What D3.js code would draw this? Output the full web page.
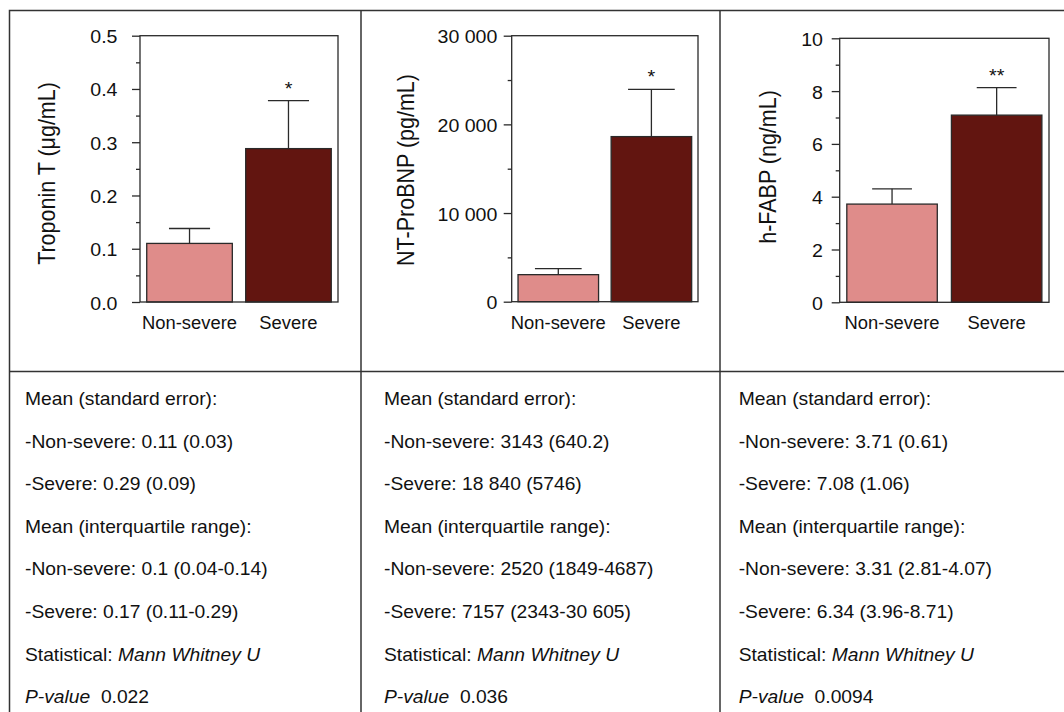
<!DOCTYPE html>
<html><head><meta charset="utf-8">
<script src="https://cdn.jsdelivr.net/npm/d3@7"></script>
<style>
body{margin:0;background:#fff}
svg{display:block}
text{font-family:"Liberation Sans",Arial,Helvetica,sans-serif;fill:#111}
</style>
</head><body>
<svg id="c" width="1064" height="712"></svg>
<script>
// ---------------- DATA ----------------
const categories = ["Non-severe", "Severe"];

const troponinMean = [0.11, 0.288];
const troponinSE   = [0.028, 0.09];
const troponinTicks = [0, 0.1, 0.2, 0.3, 0.4, 0.5];
const troponinTickLabels = ["0.0", "0.1", "0.2", "0.3", "0.4", "0.5"];
const troponinMinor = [0.05, 0.15, 0.25, 0.35, 0.45];

const ntMean = [3050, 18620];
const ntSE   = [670, 5330];
const ntTicks = [0, 10000, 20000, 30000];
const ntTickLabels = ["0", "10 000", "20 000", "30 000"];
const ntMinor = [5000, 15000, 25000];

const fabpMean = [3.72, 7.09];
const fabpSE   = [0.58, 1.04];
const fabpTicks = [0, 2, 4, 6, 8, 10];
const fabpTickLabels = ["0", "2", "4", "6", "8", "10"];
const fabpMinor = [1, 3, 5, 7, 9];

const yTitles = ["Troponin T (\u03BCg/mL)", "NT-ProBNP (pg/mL)", "h-FABP (ng/mL)"];
const significance = ["*", "*", "**"];

const tableTroponin = [
  [["Mean (standard error):", 0]],
  [["-Non-severe: 0.11 (0.03)", 0]],
  [["-Severe: 0.29 (0.09)", 0]],
  [["Mean (interquartile range):", 0]],
  [["-Non-severe: 0.1 (0.04-0.14)", 0]],
  [["-Severe: 0.17 (0.11-0.29)", 0]],
  [["Statistical: ", 0], ["Mann Whitney U", 1]],
  [["P-value", 1], ["  0.022", 0]]
];
const tableNT = [
  [["Mean (standard error):", 0]],
  [["-Non-severe: 3143 (640.2)", 0]],
  [["-Severe: 18 840 (5746)", 0]],
  [["Mean (interquartile range):", 0]],
  [["-Non-severe: 2520 (1849-4687)", 0]],
  [["-Severe: 7157 (2343-30 605)", 0]],
  [["Statistical: ", 0], ["Mann Whitney U", 1]],
  [["P-value", 1], ["  0.036", 0]]
];
const tableFABP = [
  [["Mean (standard error):", 0]],
  [["-Non-severe: 3.71 (0.61)", 0]],
  [["-Severe: 7.08 (1.06)", 0]],
  [["Mean (interquartile range):", 0]],
  [["-Non-severe: 3.31 (2.81-4.07)", 0]],
  [["-Severe: 6.34 (3.96-8.71)", 0]],
  [["Statistical: ", 0], ["Mann Whitney U", 1]],
  [["P-value", 1], ["  0.0094", 0]]
];

// ---------------- LAYOUT ----------------
const svg = d3.select("#c");
const colors = ["#DF8C8A", "#621510"];
const lineCol = "#2a2a2a";

const panels = [
  {mean: troponinMean, se: troponinSE, ticks: troponinTicks, labels: troponinTickLabels, minor: troponinMinor, max: 0.5,
   x0: 140, x1: 338, yTop: 35.7, yBot: 302, titleX: 55, titleY: 173.5, pad: 22.5, cap: 0.48, table: tableTroponin, tx: 25},
  {mean: ntMean, se: ntSE, ticks: ntTicks, labels: ntTickLabels, minor: ntMinor, max: 30000,
   x0: 511.7, x1: 698, yTop: 35.7, yBot: 301.7, titleX: 413.5, titleY: 170, pad: 14.3, cap: 0.58, table: tableNT, tx: 384},
  {mean: fabpMean, se: fabpSE, ticks: fabpTicks, labels: fabpTickLabels, minor: fabpMinor, max: 10,
   x0: 839.7, x1: 1049, yTop: 38.3, yBot: 302.3, titleX: 776, titleY: 167, pad: 16.7, cap: 0.44, table: tableFABP, tx: 738.7}
];

// frame
const frame = svg.append("g").attr("fill", "none").attr("stroke", "#333").attr("stroke-width", 1.5);
frame.append("rect").attr("x", 9.5).attr("y", 10.5).attr("width", 1080).attr("height", 720);
frame.append("line").attr("x1", 9.5).attr("x2", 1064).attr("y1", 371.5).attr("y2", 371.5);
frame.append("line").attr("x1", 361).attr("x2", 361).attr("y1", 10.5).attr("y2", 712);
frame.append("line").attr("x1", 720).attr("x2", 720).attr("y1", 10.5).attr("y2", 712);

panels.forEach((p, pi) => {
  const g = svg.append("g");
  const y = d3.scaleLinear().domain([0, p.max]).range([p.yBot, p.yTop]);
  const x = d3.scaleBand().domain(categories).range([p.x0, p.x1]).paddingInner(0.135).paddingOuter(0.068);
  const bw = x.bandwidth();

  // bars
  g.selectAll("rect.bar").data(categories).join("rect")
    .attr("class", "bar")
    .attr("x", d => x(d)).attr("width", bw)
    .attr("y", (d, i) => y(p.mean[i]))
    .attr("height", (d, i) => y(0) - y(p.mean[i]))
    .attr("fill", (d, i) => colors[i])
    .attr("stroke", lineCol).attr("stroke-width", 1.3);

  // error bars
  categories.forEach((c, i) => {
    const cx = x(c) + bw / 2;
    const top = y(p.mean[i] + p.se[i]);
    g.append("line").attr("x1", cx).attr("x2", cx).attr("y1", y(p.mean[i])).attr("y2", top)
      .attr("stroke", lineCol).attr("stroke-width", 1.3);
    g.append("line").attr("x1", cx - bw * p.cap / 2).attr("x2", cx + bw * p.cap / 2).attr("y1", top).attr("y2", top)
      .attr("stroke", lineCol).attr("stroke-width", 1.3);
  });

  // significance marker
  {
    const i = 1, c = categories[1];
    const cx = x(c) + bw / 2;
    const top = y(p.mean[i] + p.se[i]);
    g.append("text").text(significance[pi])
      .attr("text-anchor", "middle").style("font-size", "18px")
      .attr("transform", `translate(${cx},${top - 6}) scale(1.1,1)`);
  }

  // plot box
  g.append("rect").attr("x", p.x0).attr("y", p.yTop).attr("width", p.x1 - p.x0).attr("height", p.yBot - p.yTop)
    .attr("fill", "none").attr("stroke", lineCol).attr("stroke-width", 1.3);

  // y axis
  const ax = g.append("g").attr("transform", `translate(${p.x0},0)`)
    .call(d3.axisLeft(y).tickValues(p.ticks).tickSize(8).tickSizeOuter(0)
      .tickFormat((d, i) => p.labels[i]));
  ax.select(".domain").remove();
  ax.selectAll(".tick line").attr("stroke", lineCol).attr("stroke-width", 1.3);
  ax.selectAll(".tick text")
    .attr("x", 0).attr("dy", "0.4em").attr("fill", "#111")
    .style("font-size", "17.5px").style("font-family", '"Liberation Sans",Arial,Helvetica,sans-serif')
    .attr("transform", `translate(${-p.pad},0) scale(1.12,1)`);
  // minor ticks
  const mx = g.append("g").attr("transform", `translate(${p.x0},0)`)
    .call(d3.axisLeft(y).tickValues(p.minor).tickSize(4).tickSizeOuter(0).tickFormat(""));
  mx.select(".domain").remove();
  mx.selectAll(".tick line").attr("stroke", lineCol).attr("stroke-width", 1.3);

  // x labels
  g.selectAll("text.xl").data(categories).join("text")
    .attr("class", "xl").text(d => d)
    .attr("text-anchor", "middle").style("font-size", "17.5px")
    .attr("transform", d => `translate(${x(d) + bw / 2},${328.5}) scale(1.05,1)`);

  // y title
  g.append("text").text(yTitles[pi])
    .attr("text-anchor", "middle").style("font-size", "21.5px")
    .attr("transform", `translate(${p.titleX},${p.titleY}) scale(1.08,1) rotate(-90)`);

  // table
  const tg = g.append("g");
  p.table.forEach((row, ri) => {
    const t = tg.append("text").style("font-size", "17.5px")
      .attr("transform", `translate(${p.tx},${405 + ri * 42.6}) scale(1.1,1)`)
      .attr("xml:space", "preserve").style("white-space", "pre");
    row.forEach(seg => {
      t.append("tspan").text(seg[0]).style("font-style", seg[1] ? "italic" : "normal");
    });
  });
});
</script>
</body></html>
